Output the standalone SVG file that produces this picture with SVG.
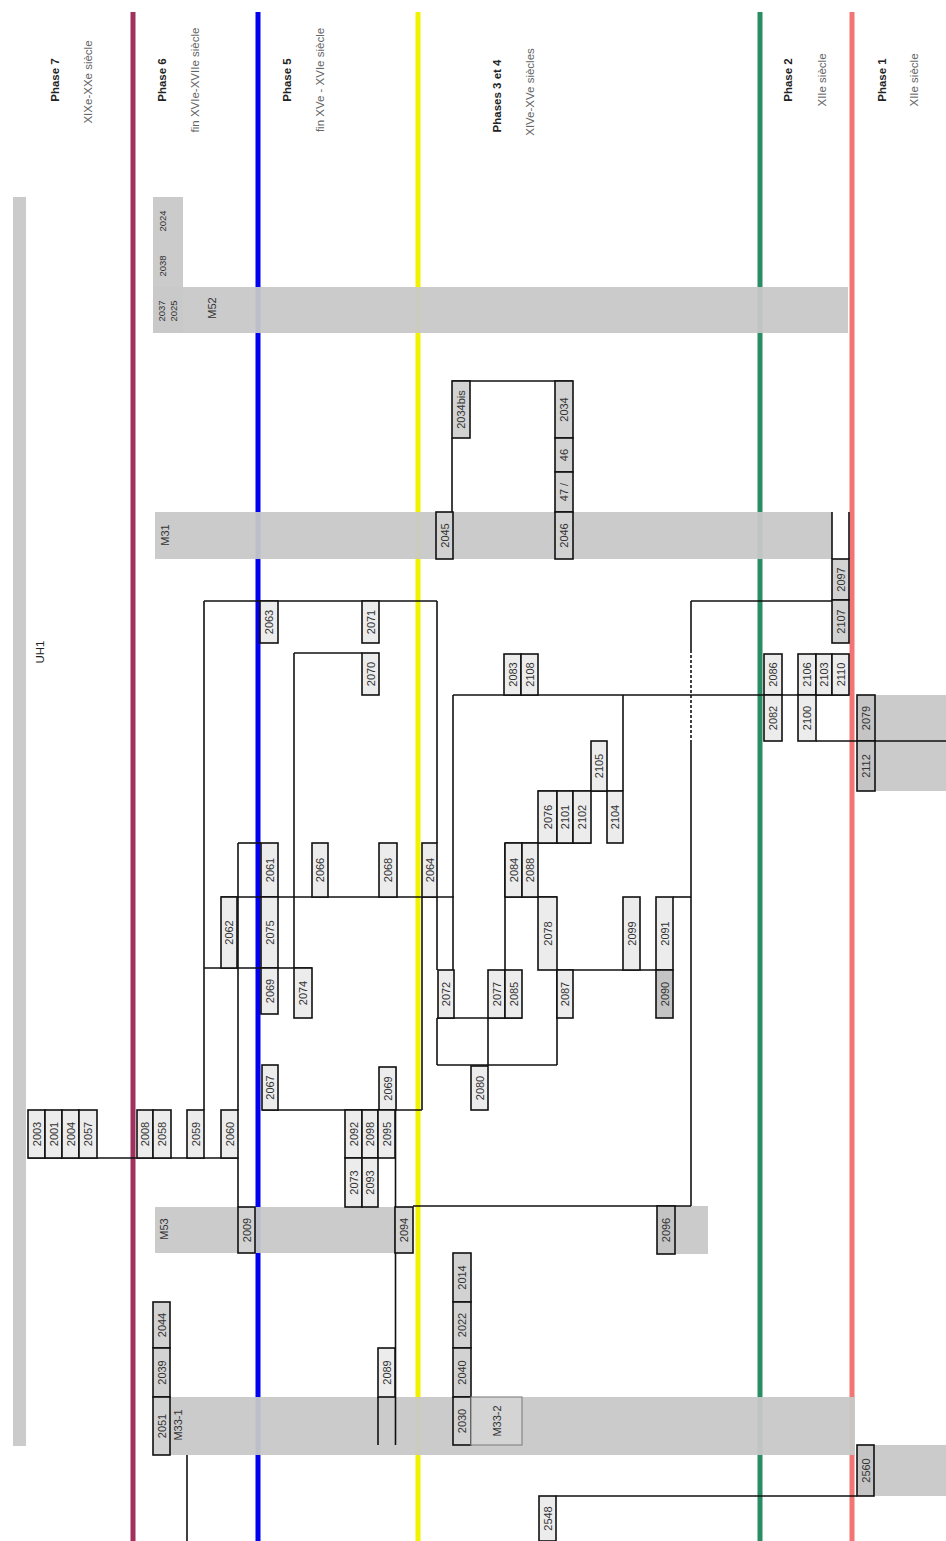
<svg xmlns="http://www.w3.org/2000/svg" width="946" height="1541" viewBox="0 0 946 1541">
<style>
.bg{fill:#ffffff}
.ph{stroke-width:5;fill:none}
.band{fill:#c8c8c8;opacity:0.95}
.box{fill:#ececec;stroke:#111;stroke-width:1.6}
.md{fill:#d2d2d2}
.dk{fill:#c4c4c4}
.t{font-family:"Liberation Sans",Arial,sans-serif;font-size:11px;fill:#333;text-anchor:middle;dominant-baseline:central}
.s{font-size:9.5px}
.lbl{font-family:"Liberation Sans",Arial,sans-serif;font-size:11.5px;fill:#222;text-anchor:middle;dominant-baseline:central}
.b{font-weight:bold}
.sub{fill:#666}
#connectors line{stroke:#111;stroke-width:1.6}
#connectors .dot{stroke-dasharray:3 2}
</style>
<rect class="bg" x="0" y="0" width="946" height="1541"/>

<g id="phase-lines">
<line class="ph" x1="133" y1="12" x2="133" y2="1541" stroke="#a0305c"/>
<line class="ph" x1="258" y1="12" x2="258" y2="1541" stroke="#0000ee"/>
<line class="ph" x1="418" y1="12" x2="418" y2="1541" stroke="#f2f200" stroke-width="6"/>
<line class="ph" x1="760" y1="12" x2="760" y2="1541" stroke="#2a8c64" stroke-width="6"/>
<line class="ph" x1="852" y1="12" x2="852" y2="1541" stroke="#f27474"/>
</g>

<g id="phase-labels">
<text class="lbl b" transform="translate(55,80) rotate(-90)">Phase 7</text>
<text class="lbl sub" transform="translate(88,82) rotate(-90)">XIXe-XXe siècle</text>
<text class="lbl b" transform="translate(162,80) rotate(-90)">Phase 6</text>
<text class="lbl sub" transform="translate(195,80) rotate(-90)">fin XVIe-XVIIe siècle</text>
<text class="lbl b" transform="translate(287,80) rotate(-90)">Phase 5</text>
<text class="lbl sub" transform="translate(320,80) rotate(-90)">fin XVe - XVIe siècle</text>
<text class="lbl b" transform="translate(497,96) rotate(-90)">Phases 3 et 4</text>
<text class="lbl sub" transform="translate(530,92) rotate(-90)">XIVe-XVe siècles</text>
<text class="lbl b" transform="translate(788,80) rotate(-90)">Phase 2</text>
<text class="lbl sub" transform="translate(822,80) rotate(-90)">XIIe siècle</text>
<text class="lbl b" transform="translate(882,80) rotate(-90)">Phase 1</text>
<text class="lbl sub" transform="translate(914,80) rotate(-90)">XIIe siècle</text>
</g>

<g id="UH1">
<rect class="band" x="13" y="197" width="13" height="1249"/>
<text class="lbl s" transform="translate(40,652) rotate(-90)">UH1</text>
</g>

<g id="M52">
<rect class="band" x="153" y="197" width="30" height="136"/>
<rect class="band" x="153" y="287" width="695" height="46"/>
<text class="t s" transform="translate(162,221) rotate(-90)">2024</text>
<text class="t s" transform="translate(162,266) rotate(-90)">2038</text>
<text class="t s" transform="translate(161,311) rotate(-90)">2037</text>
<text class="t s" transform="translate(173,311) rotate(-90)">2025</text>
<text class="t" transform="translate(212,308) rotate(-90)">M52</text>
</g>

<g id="M31">
<rect class="band" x="155" y="512" width="677" height="47"/>
<text class="t" transform="translate(165,535) rotate(-90)">M31</text>
</g>

<g id="M53">
<rect class="band" x="155" y="1207" width="240" height="46"/>
<text class="t" transform="translate(164,1229) rotate(-90)">M53</text>
</g>

<g id="M33-1">
<rect class="band" x="170" y="1397" width="685" height="58"/>
<text class="t" transform="translate(178,1425) rotate(-90)">M33-1</text>
</g>

<g id="gray-right">
<rect class="band" x="875" y="695" width="71" height="96"/>
<rect class="band" x="873" y="1445" width="73" height="51"/>
<rect class="band" x="675" y="1206" width="33" height="48"/>
</g>

<g id="connectors">
<line x1="204" y1="601" x2="437" y2="601"/>
<line x1="204" y1="601" x2="204" y2="1110"/>
<line x1="437" y1="601" x2="437" y2="843"/>
<line x1="437" y1="897" x2="437" y2="970"/>
<line x1="437" y1="1018" x2="437" y2="1065"/>
<line x1="294" y1="653" x2="362" y2="653"/>
<line x1="294" y1="653" x2="294" y2="968"/>
<line x1="238" y1="843" x2="261" y2="843"/>
<line x1="238" y1="843" x2="238" y2="1110"/>
<line x1="238" y1="1158" x2="238" y2="1207"/>
<line x1="221" y1="897" x2="454" y2="897"/>
<line x1="204" y1="968" x2="312" y2="968"/>
<line x1="422" y1="897" x2="422" y2="1110"/>
<line x1="262" y1="1110" x2="422" y2="1110"/>
<line x1="395.5" y1="1067" x2="395.5" y2="1445"/>
<line x1="378" y1="1397" x2="378" y2="1445"/>
<line x1="28" y1="1158" x2="238" y2="1158"/>
<line x1="413" y1="1206" x2="691" y2="1206"/>
<line x1="691" y1="601" x2="691" y2="650"/>
<line class="dot" x1="691" y1="650" x2="691" y2="741"/>
<line x1="691" y1="741" x2="691" y2="1206"/>
<line x1="691" y1="601" x2="832" y2="601"/>
<line x1="453" y1="695" x2="453" y2="1018"/>
<line x1="453" y1="695" x2="849" y2="695"/>
<line x1="623" y1="695" x2="623" y2="791"/>
<line x1="538" y1="791" x2="623" y2="791"/>
<line x1="505" y1="843" x2="591" y2="843"/>
<line x1="505" y1="843" x2="505" y2="970"/>
<line x1="505" y1="897" x2="557" y2="897"/>
<line x1="557" y1="970" x2="557" y2="1065"/>
<line x1="557" y1="970" x2="673" y2="970"/>
<line x1="673" y1="897" x2="691" y2="897"/>
<line x1="437" y1="1018" x2="522" y2="1018"/>
<line x1="488" y1="1018" x2="488" y2="1066"/>
<line x1="437" y1="1065" x2="557" y2="1065"/>
<line x1="816" y1="741" x2="946" y2="741"/>
<line x1="452" y1="438" x2="452" y2="512"/>
<line x1="452" y1="381" x2="573" y2="381"/>
<line x1="832" y1="512" x2="832" y2="559"/>
<line x1="849" y1="512" x2="849" y2="559"/>
<line x1="187" y1="1455" x2="187" y2="1541"/>
<line x1="556" y1="1496" x2="857" y2="1496"/>
</g>

<g id="n2034bis"><rect class="box md" x="452" y="381" width="18" height="57"/><text class="t" transform="translate(461,409.5) rotate(-90)">2034bis</text></g>
<g id="n2034"><rect class="box md" x="555" y="381" width="18" height="57"/><text class="t" transform="translate(564,409.5) rotate(-90)">2034</text></g>
<g id="n46"><rect class="box md" x="555" y="438" width="18" height="34"/><text class="t" transform="translate(564,455) rotate(-90)">46</text></g>
<g id="n47"><rect class="box md" x="555" y="472" width="18" height="40"/><text class="t" transform="translate(564,492) rotate(-90)">47 /</text></g>
<g id="n2045"><rect class="box md" x="436" y="512" width="17" height="47"/><text class="t" transform="translate(444.5,535.5) rotate(-90)">2045</text></g>
<g id="n2046"><rect class="box md" x="555" y="512" width="18" height="47"/><text class="t" transform="translate(564,535.5) rotate(-90)">2046</text></g>
<g id="n2097"><rect class="box md" x="832" y="559" width="17" height="41"/><text class="t" transform="translate(840.5,579.5) rotate(-90)">2097</text></g>
<g id="n2107"><rect class="box md" x="832" y="600" width="17" height="43"/><text class="t" transform="translate(840.5,621.5) rotate(-90)">2107</text></g>
<g id="n2063"><rect class="box" x="260" y="601" width="18" height="42"/><text class="t" transform="translate(269,622) rotate(-90)">2063</text></g>
<g id="n2071"><rect class="box" x="362" y="601" width="17" height="42"/><text class="t" transform="translate(370.5,622) rotate(-90)">2071</text></g>
<g id="n2070"><rect class="box" x="362" y="653" width="17" height="42"/><text class="t" transform="translate(370.5,674) rotate(-90)">2070</text></g>
<g id="n2083"><rect class="box" x="504" y="654" width="17" height="41"/><text class="t" transform="translate(512.5,674.5) rotate(-90)">2083</text></g>
<g id="n2108"><rect class="box" x="521" y="654" width="17" height="41"/><text class="t" transform="translate(529.5,674.5) rotate(-90)">2108</text></g>
<g id="n2086"><rect class="box" x="764" y="654" width="18" height="41"/><text class="t" transform="translate(773,674.5) rotate(-90)">2086</text></g>
<g id="n2082"><rect class="box" x="764" y="695" width="18" height="46"/><text class="t" transform="translate(773,718) rotate(-90)">2082</text></g>
<g id="n2106"><rect class="box" x="798" y="654" width="18" height="41"/><text class="t" transform="translate(807,674.5) rotate(-90)">2106</text></g>
<g id="n2103"><rect class="box" x="816" y="654" width="16" height="41"/><text class="t" transform="translate(824,674.5) rotate(-90)">2103</text></g>
<g id="n2110"><rect class="box" x="832" y="654" width="17" height="41"/><text class="t" transform="translate(840.5,674.5) rotate(-90)">2110</text></g>
<g id="n2100"><rect class="box" x="798" y="695" width="18" height="46"/><text class="t" transform="translate(807,718) rotate(-90)">2100</text></g>
<g id="n2079"><rect class="box dk" x="857" y="695" width="18" height="46"/><text class="t" transform="translate(866,718) rotate(-90)">2079</text></g>
<g id="n2112"><rect class="box dk" x="857" y="741" width="18" height="50"/><text class="t" transform="translate(866,766) rotate(-90)">2112</text></g>
<g id="n2105"><rect class="box" x="591" y="741" width="16" height="50"/><text class="t" transform="translate(599,766) rotate(-90)">2105</text></g>
<g id="n2076"><rect class="box" x="538" y="791" width="19" height="52"/><text class="t" transform="translate(547.5,817) rotate(-90)">2076</text></g>
<g id="n2101"><rect class="box" x="557" y="791" width="16" height="52"/><text class="t" transform="translate(565,817) rotate(-90)">2101</text></g>
<g id="n2102"><rect class="box" x="573" y="791" width="18" height="52"/><text class="t" transform="translate(582,817) rotate(-90)">2102</text></g>
<g id="n2104"><rect class="box" x="607" y="791" width="16" height="52"/><text class="t" transform="translate(615,817) rotate(-90)">2104</text></g>
<g id="n2061"><rect class="box" x="261" y="843" width="17" height="54"/><text class="t" transform="translate(269.5,870) rotate(-90)">2061</text></g>
<g id="n2066"><rect class="box" x="312" y="843" width="16" height="54"/><text class="t" transform="translate(320,870) rotate(-90)">2066</text></g>
<g id="n2068"><rect class="box" x="379" y="843" width="18" height="54"/><text class="t" transform="translate(388,870) rotate(-90)">2068</text></g>
<g id="n2064a"><rect class="box" x="422" y="843" width="15" height="54"/><text class="t" transform="translate(429.5,870) rotate(-90)">2064</text></g>
<g id="n2084"><rect class="box" x="505" y="843" width="17" height="54"/><text class="t" transform="translate(513.5,870) rotate(-90)">2084</text></g>
<g id="n2088"><rect class="box" x="522" y="843" width="16" height="54"/><text class="t" transform="translate(530,870) rotate(-90)">2088</text></g>
<g id="n2062"><rect class="box" x="221" y="897" width="16" height="71"/><text class="t" transform="translate(229,932.5) rotate(-90)">2062</text></g>
<g id="n2075"><rect class="box" x="261" y="897" width="17" height="71"/><text class="t" transform="translate(269.5,932.5) rotate(-90)">2075</text></g>
<g id="n2078"><rect class="box" x="538" y="897" width="19" height="73"/><text class="t" transform="translate(547.5,933.5) rotate(-90)">2078</text></g>
<g id="n2099"><rect class="box" x="623" y="897" width="17" height="73"/><text class="t" transform="translate(631.5,933.5) rotate(-90)">2099</text></g>
<g id="n2091"><rect class="box" x="656" y="897" width="17" height="73"/><text class="t" transform="translate(664.5,933.5) rotate(-90)">2091</text></g>
<g id="n2069a"><rect class="box" x="261" y="968" width="17" height="46"/><text class="t" transform="translate(269.5,991) rotate(-90)">2069</text></g>
<g id="n2074"><rect class="box" x="294" y="968" width="18" height="50"/><text class="t" transform="translate(303,993) rotate(-90)">2074</text></g>
<g id="n2072"><rect class="box" x="438" y="970" width="16" height="48"/><text class="t" transform="translate(446,994) rotate(-90)">2072</text></g>
<g id="n2077"><rect class="box" x="488" y="970" width="17" height="48"/><text class="t" transform="translate(496.5,994) rotate(-90)">2077</text></g>
<g id="n2085"><rect class="box" x="505" y="970" width="17" height="48"/><text class="t" transform="translate(513.5,994) rotate(-90)">2085</text></g>
<g id="n2087"><rect class="box" x="557" y="970" width="16" height="48"/><text class="t" transform="translate(565,994) rotate(-90)">2087</text></g>
<g id="n2090"><rect class="box dk" x="656" y="970" width="17" height="48"/><text class="t" transform="translate(664.5,994) rotate(-90)">2090</text></g>
<g id="n2067"><rect class="box" x="262" y="1065" width="16" height="45"/><text class="t" transform="translate(270,1087.5) rotate(-90)">2067</text></g>
<g id="n2069b"><rect class="box" x="379" y="1067" width="17" height="43"/><text class="t" transform="translate(387.5,1088.5) rotate(-90)">2069</text></g>
<g id="n2080"><rect class="box" x="471" y="1066" width="17" height="44"/><text class="t" transform="translate(479.5,1088) rotate(-90)">2080</text></g>
<g id="n2003"><rect class="box" x="28" y="1110" width="17" height="48"/><text class="t" transform="translate(36.5,1134) rotate(-90)">2003</text></g>
<g id="n2001"><rect class="box" x="45" y="1110" width="17" height="48"/><text class="t" transform="translate(53.5,1134) rotate(-90)">2001</text></g>
<g id="n2004"><rect class="box" x="62" y="1110" width="17" height="48"/><text class="t" transform="translate(70.5,1134) rotate(-90)">2004</text></g>
<g id="n2057"><rect class="box" x="79" y="1110" width="18" height="48"/><text class="t" transform="translate(88,1134) rotate(-90)">2057</text></g>
<g id="n2008"><rect class="box" x="137" y="1110" width="16" height="48"/><text class="t" transform="translate(145,1134) rotate(-90)">2008</text></g>
<g id="n2058"><rect class="box" x="153" y="1110" width="18" height="48"/><text class="t" transform="translate(162,1134) rotate(-90)">2058</text></g>
<g id="n2059"><rect class="box" x="187" y="1110" width="17" height="48"/><text class="t" transform="translate(195.5,1134) rotate(-90)">2059</text></g>
<g id="n2060"><rect class="box" x="221" y="1110" width="17" height="48"/><text class="t" transform="translate(229.5,1134) rotate(-90)">2060</text></g>
<g id="n2092"><rect class="box" x="345" y="1110" width="17" height="48"/><text class="t" transform="translate(353.5,1134) rotate(-90)">2092</text></g>
<g id="n2098"><rect class="box" x="362" y="1110" width="16" height="48"/><text class="t" transform="translate(370,1134) rotate(-90)">2098</text></g>
<g id="n2095"><rect class="box" x="378" y="1110" width="17" height="48"/><text class="t" transform="translate(386.5,1134) rotate(-90)">2095</text></g>
<g id="n2073"><rect class="box" x="345" y="1158" width="17" height="49"/><text class="t" transform="translate(353.5,1182.5) rotate(-90)">2073</text></g>
<g id="n2093"><rect class="box" x="362" y="1158" width="16" height="49"/><text class="t" transform="translate(370,1182.5) rotate(-90)">2093</text></g>
<g id="n2009"><rect class="box md" x="238" y="1207" width="17" height="46"/><text class="t" transform="translate(246.5,1230) rotate(-90)">2009</text></g>
<g id="n2094"><rect class="box md" x="395" y="1207" width="18" height="46"/><text class="t" transform="translate(404,1230) rotate(-90)">2094</text></g>
<g id="n2096"><rect class="box dk" x="657" y="1206" width="18" height="48"/><text class="t" transform="translate(666,1230) rotate(-90)">2096</text></g>
<g id="n2014"><rect class="box md" x="453" y="1253" width="18" height="49"/><text class="t" transform="translate(462,1277.5) rotate(-90)">2014</text></g>
<g id="n2022"><rect class="box md" x="453" y="1302" width="18" height="46"/><text class="t" transform="translate(462,1325) rotate(-90)">2022</text></g>
<g id="n2040"><rect class="box md" x="453" y="1348" width="18" height="49"/><text class="t" transform="translate(462,1372.5) rotate(-90)">2040</text></g>
<g id="n2030"><rect class="box md" x="453" y="1397" width="18" height="48"/><text class="t" transform="translate(462,1421) rotate(-90)">2030</text></g>
<g id="nM33-2"><rect x="471" y="1397" width="51" height="48" fill="#d4d4d4" stroke="#888" stroke-width="1.2"/><text class="t" transform="translate(496.5,1421) rotate(-90)">M33-2</text></g>
<g id="n2044"><rect class="box md" x="153" y="1302" width="17" height="46"/><text class="t" transform="translate(161.5,1325) rotate(-90)">2044</text></g>
<g id="n2039"><rect class="box md" x="153" y="1348" width="17" height="49"/><text class="t" transform="translate(161.5,1372.5) rotate(-90)">2039</text></g>
<g id="n2051"><rect class="box md" x="153" y="1397" width="17" height="58"/><text class="t" transform="translate(161.5,1426) rotate(-90)">2051</text></g>
<g id="n2089"><rect class="box" x="378" y="1348" width="17" height="49"/><text class="t" transform="translate(386.5,1372.5) rotate(-90)">2089</text></g>
<g id="n2548"><rect class="box" x="539" y="1496" width="17" height="45"/><text class="t" transform="translate(547.5,1518.5) rotate(-90)">2548</text></g>
<g id="n2560"><rect class="box dk" x="857" y="1445" width="17" height="51"/><text class="t" transform="translate(865.5,1470.5) rotate(-90)">2560</text></g>
</svg>
